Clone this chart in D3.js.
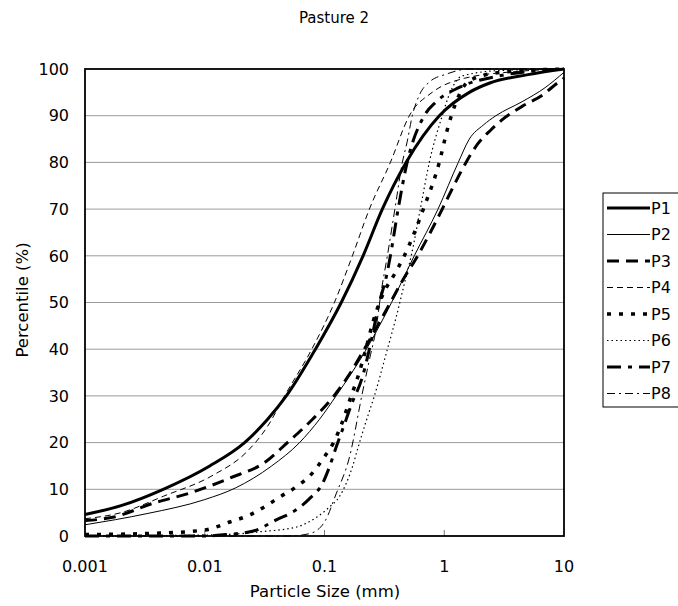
<!DOCTYPE html>
<html>
<head>
<script src="https://d3js.org/d3.v7.min.js"></script>
<style>
  body { margin: 0; background: #fff; }
  text { font-family: "DejaVu Sans", "Liberation Sans", Arial, sans-serif; fill: #000; }
</style>
</head>
<body>
<svg id="chart" width="678" height="606"></svg>
<script>
// particle size (mm) vs cumulative percentile
var p1 = [[0.001,4.6],[0.002,6.5],[0.0045,10],[0.011,15],[0.0215,20],[0.0335,25],[0.048,30],[0.084,40],[0.138,50],[0.21,60],[0.304,70],[0.48,80],[0.91,90],[1.62,95],[2.4,97],[5,98.8],[10,100]];
var p2 = [[0.001,2.4],[0.0018,3.5],[0.0033,4.8],[0.01,7.8],[0.0181,10.3],[0.0362,15],[0.0619,20],[0.0909,25],[0.125,30],[0.224,40],[0.363,50],[0.562,60],[0.887,70],[1.31,80],[1.62,85],[2.12,88],[2.7,90],[4.47,93],[6.95,96],[10,99.3]];
var p3 = [[0.001,3.3],[0.0017,4],[0.0037,7],[0.0075,9.2],[0.0162,12.4],[0.0327,16],[0.049,20],[0.0795,25],[0.12,30],[0.165,35],[0.215,40],[0.277,45],[0.355,50],[0.455,55],[0.6,60],[0.765,65],[0.962,70],[1.2,75],[1.52,80],[1.91,84],[2.46,87],[3,89],[4.47,92],[6.6,94.4],[8.8,97],[10,98]];
var p4 = [[0.001,3.7],[0.002,5],[0.0045,8.5],[0.0117,13],[0.0224,18],[0.0335,23.5],[0.0464,30],[0.0783,40],[0.121,50],[0.171,60],[0.237,70],[0.355,80],[0.511,90],[0.794,95],[1.47,98],[4.2,99.5],[10,100]];
var p5 = [[0.001,0.3],[0.004,0.6],[0.01,1.3],[0.0162,3],[0.0237,4.5],[0.0327,6.5],[0.042,8.3],[0.058,10.5],[0.0795,13.5],[0.1,17],[0.119,20],[0.139,24],[0.162,29],[0.195,35],[0.224,40.5],[0.255,46],[0.311,52],[0.383,56],[0.464,60],[0.669,70],[0.909,80],[1.06,87],[1.26,93],[1.62,97.5],[3,99.3],[10,100]];
var p6 = [[0.001,0],[0.01,0.2],[0.02,0.5],[0.0287,0.9],[0.058,1.9],[0.0857,4],[0.11,6.2],[0.133,8.4],[0.152,11.3],[0.171,14.8],[0.188,18.4],[0.207,22],[0.232,26],[0.261,30],[0.335,40],[0.398,47],[0.464,54],[0.53,60],[0.631,70],[0.75,80],[0.962,90],[1.12,95],[1.41,98.5],[3,99.7],[10,100]];
var p7 = [[0.001,0],[0.01,0],[0.015,0.3],[0.025,1],[0.04,3.5],[0.058,5.6],[0.075,8],[0.0965,11.3],[0.11,14.8],[0.125,19],[0.147,24],[0.17,28.5],[0.207,34],[0.237,40],[0.287,50],[0.328,55.5],[0.355,60],[0.412,70],[0.49,80],[0.681,90],[0.857,93],[1.32,96],[2.86,98.5],[10,100]];
var p8 = [[0.001,0],[0.051,0],[0.075,0.5],[0.1,3],[0.125,9],[0.162,17],[0.207,30.6],[0.237,37.7],[0.271,44.8],[0.296,52],[0.335,60],[0.387,70],[0.447,80],[0.49,84.4],[0.541,90],[0.619,94.4],[0.75,97.2],[1.04,98.9],[1.62,100],[10,100]];

var seriesNames = ["P1","P2","P3","P4","P5","P6","P7","P8"];
var seriesData = [p1, p2, p3, p4, p5, p6, p7, p8];

var xTicks = [0.001, 0.01, 0.1, 1, 10];
var xTickLabels = ["0.001", "0.01", "0.1", "1", "10"];
var yTicks = [0, 10, 20, 30, 40, 50, 60, 70, 80, 90, 100];

// line looks, same order as seriesNames
var styles = [
  {w: 3,   dash: null},
  {w: 1,   dash: null},
  {w: 3,   dash: "12,7"},
  {w: 1,   dash: "6,4"},
  {w: 3.5, dash: "4,8"},
  {w: 1.2, dash: "1.5,3"},
  {w: 3,   dash: "14,7,4,7"},
  {w: 1,   dash: "8,4,2,4"}
];

var svg = d3.select("#chart");

var x = d3.scaleLog().domain([0.001, 10]).range([85, 564]);
var y = d3.scaleLinear().domain([0, 100]).range([536, 69]);

// title
svg.append("text")
  .attr("x", 334).attr("y", 23)
  .attr("text-anchor", "middle")
  .style("font-size", "15px")
  .text("Pasture 2");

// gridlines
svg.append("g")
  .selectAll("line")
  .data(yTicks.filter(function(d){ return d > 0 && d < 100; }))
  .enter().append("line")
    .attr("x1", x(0.001)).attr("x2", x(10))
    .attr("y1", function(d){ return y(d); })
    .attr("y2", function(d){ return y(d); })
    .style("stroke", "#9a9a9a")
    .style("stroke-width", 1);

// small ticks on x axis
svg.append("g")
  .selectAll("line")
  .data(xTicks.slice(1, -1))
  .enter().append("line")
    .attr("x1", function(d){ return x(d); })
    .attr("x2", function(d){ return x(d); })
    .attr("y1", y(0)).attr("y2", y(0) - 6)
    .style("stroke", "#777")
    .style("stroke-width", 1);

// y tick labels
svg.append("g")
  .selectAll("text")
  .data(yTicks)
  .enter().append("text")
    .attr("x", 69)
    .attr("y", function(d){ return y(d); })
    .attr("dy", "0.36em")
    .attr("text-anchor", "end")
    .style("font-size", "16px")
    .text(function(d){ return d; });

// x tick labels
svg.append("g")
  .selectAll("text")
  .data(xTicks)
  .enter().append("text")
    .attr("x", function(d){ return x(d); })
    .attr("y", 572)
    .attr("text-anchor", "middle")
    .style("font-size", "16px")
    .text(function(d, i){ return xTickLabels[i]; });

// axis titles
svg.append("text")
  .attr("x", 325).attr("y", 597)
  .attr("text-anchor", "middle")
  .style("font-size", "16.5px")
  .text("Particle Size (mm)");

svg.append("text")
  .attr("transform", "translate(28,300) rotate(-90)")
  .attr("text-anchor", "middle")
  .style("font-size", "16.5px")
  .text("Percentile (%)");

// the curves
var line = d3.line()
  .x(function(d){ return x(d[0]); })
  .y(function(d){ return y(d[1]); })
  .curve(d3.curveMonotoneX);

svg.append("g")
  .selectAll("path")
  .data(seriesData)
  .enter().append("path")
    .attr("d", line)
    .style("fill", "none")
    .style("stroke", "#000")
    .style("stroke-width", function(d, i){ return styles[i].w; })
    .style("stroke-dasharray", function(d, i){ return styles[i].dash; });

// plot frame
svg.append("rect")
  .attr("x", x(0.001)).attr("y", y(100))
  .attr("width", x(10) - x(0.001))
  .attr("height", y(0) - y(100))
  .style("fill", "none")
  .style("stroke", "#000")
  .style("stroke-width", 1.8);

// legend
var legend = svg.append("g");
legend.append("rect")
  .attr("x", 603).attr("y", 193)
  .attr("width", 90).attr("height", 214)
  .style("fill", "#fff")
  .style("stroke", "#000")
  .style("stroke-width", 1);

var items = legend.selectAll("g.item")
  .data(seriesNames)
  .enter().append("g")
    .attr("class", "item")
    .attr("transform", function(d, i){ return "translate(0," + (208 + i * 26.5) + ")"; });

items.append("line")
  .attr("x1", 607).attr("x2", 650)
  .attr("y1", 0).attr("y2", 0)
  .style("stroke", "#000")
  .style("stroke-width", function(d, i){ return styles[i].w; })
  .style("stroke-dasharray", function(d, i){ return styles[i].dash; });

items.append("text")
  .attr("x", 651).attr("y", 0)
  .attr("dy", "0.36em")
  .style("font-size", "16px")
  .text(function(d){ return d; });
</script>
</body>
</html>
